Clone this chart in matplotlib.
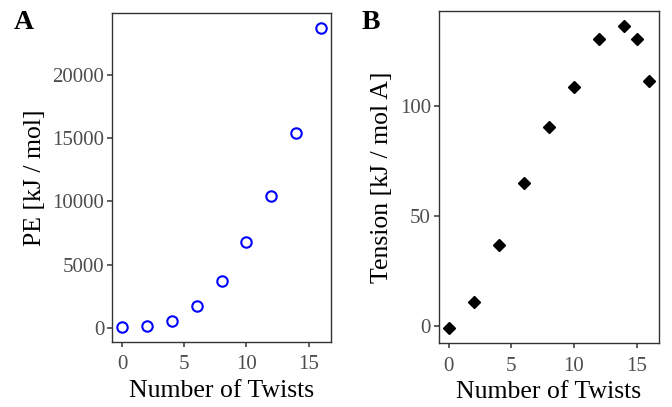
import matplotlib
matplotlib.use("Agg")
import matplotlib.pyplot as plt

# data
twists_a = [0, 2, 4, 6, 8, 10, 12, 14, 16]
pe = [80, 130, 550, 1720, 3700, 6760, 10470, 15400, 23670]

twists_b = [0, 2, 4, 6, 8, 10, 12, 14, 15, 16]
tension = [-0.8, 11.1, 37.0, 65.2, 90.5, 108.4, 130.4, 136.1, 130.4, 111.2]

plt.rcParams['font.family'] = ['Liberation Serif', 'DejaVu Serif']

fig = plt.figure(figsize=(6.72, 4.07), dpi=100)
axA = fig.add_axes([0.167, 0.1597, 0.3256, 0.8073])
axB = fig.add_axes([0.6528, 0.1565, 0.3282, 0.8157])


def style(ax, x, y):
    lo, hi = min(x), max(x)
    pad = (hi - lo) * 0.05
    ax.set_xlim(lo - pad, hi + pad)
    lo, hi = min(y), max(y)
    pad = (hi - lo) * 0.05
    ax.set_ylim(lo - pad, hi + pad)
    for s in ax.spines.values():
        s.set_color('#333333')
        s.set_linewidth(1.0)
    ax.tick_params(direction='out', length=3.6, width=1.1, color='#333333',
                   labelcolor='#4D4D4D', labelsize=15)
    ax.tick_params(axis='x', pad=6)
    ax.tick_params(axis='y', pad=2)
    ax.set_xticks([0, 5, 10, 15])
    ax.set_xlabel('Number of Twists', fontsize=18.5, labelpad=4)


axA.plot(twists_a, pe, 'o', mfc='none', mec='#0000FF', mew=1.5, ms=7.5)
style(axA, twists_a, pe)
axA.set_yticks([0, 5000, 10000, 15000, 20000])
axA.set_ylabel('PE [kJ / mol]', fontsize=18.5, labelpad=5)

axB.plot(twists_b, tension, 'D', color='black', ms=5.8)
style(axB, twists_b, tension)
axB.set_yticks([0, 50, 100])
axB.set_ylabel('Tension [kJ / mol A]', fontsize=18.5, labelpad=5)

fig.text(0.021, 0.975, 'A', fontsize=20, fontweight='bold', va='top', ha='left')
fig.text(0.538, 0.975, 'B', fontsize=20, fontweight='bold', va='top', ha='left')

fig.savefig('out.png', dpi=100)
